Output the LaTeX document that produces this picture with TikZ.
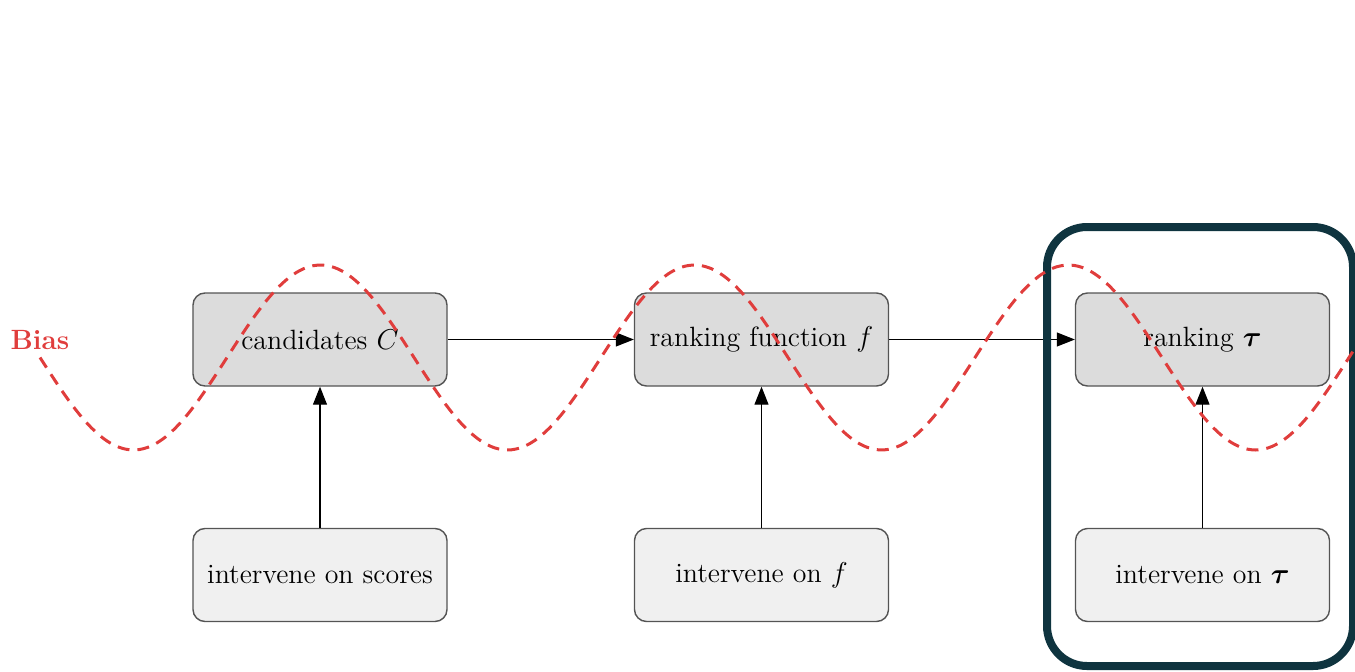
\documentclass[tikz,border=0pt]{standalone}
\usepackage{tikz}
\usepackage{amsmath,bm}
\usetikzlibrary{arrows.meta,calc}
\newcommand{\LINEPT}{0.6bp}
\newcommand{\BOXW}{127bp}
\newcommand{\BOXH}{46.5bp}
\newcommand{\WAVEP}{374}
\newcommand{\WAVEA}{92.5}
\definecolor{myred}{rgb}{0.878,0.239,0.235}
\definecolor{myframe}{rgb}{0.059,0.204,0.247}
\definecolor{mygray}{rgb}{0.863,0.863,0.863}
\definecolor{mylight}{rgb}{0.941,0.941,0.941}
\definecolor{myedge}{rgb}{0.33,0.33,0.33}

\begin{document}
\begin{tikzpicture}[x=0.5bp,y=-0.5bp,
	stage/.style={draw=myedge,fill=mygray,rounded corners=6bp,line width=0.7bp,minimum width=\BOXW,minimum height=\BOXH,font=\fontsize{14}{16}\selectfont},
	action/.style={stage,fill=mylight},
	flow/.style={-{Triangle[length=9bp,width=7bp]},color=black,line width=\LINEPT}]
	
		\useasboundingbox (0,0) rectangle (1355,672);
		\clip (0,0) rectangle (1355,672);
		
		%%
		\coordinate (c1) at (320,339.5);
		\coordinate (c2) at (761.5,339.5);
		\coordinate (c3) at (1202.5,339.5);
		
		\node[stage] (cand) at (c1) {candidates $C$};
		\node[stage] (func) at (c2) {ranking function $f$};
		\node[stage] (rank) at (c3) {ranking $\bm{\tau}$};
		
		\node[action] (icand) at ($(c1)+(0,235.5)$) {intervene on scores};
		\node[action] (ifunc) at ($(c2)+(0,235.5)$) {intervene on $f$};
		\node[action] (irank) at ($(c3)+(0,235.5)$) {intervene on $\bm{\tau}$};
		
		\draw[flow] (cand) -- (func);
		\draw[flow] (func) -- (rank);
		\draw[flow] (icand) -- (cand);
		\draw[flow] (ifunc) -- (func);
		\draw[flow] (irank) -- (rank);
		
		%%
		\draw[color=myframe,line width=4bp,rounded corners=20bp] (1047,227) rectangle (1353,666);
		
		\node[text=myred,font=\bfseries\fontsize{14}{16}\selectfont] (bias) at (40,340) {Bias};
		\draw[color=myred,line width=1.5bp,dash pattern=on 6bp off 4bp,smooth,samples=160,domain=40:1355] plot (\x,{357.5+\WAVEA*sin(((\x-40)/\WAVEP)*360)});
		
		%\draw[color=myred] (bias) -- (cand);

	\end{tikzpicture}
\end{document}
